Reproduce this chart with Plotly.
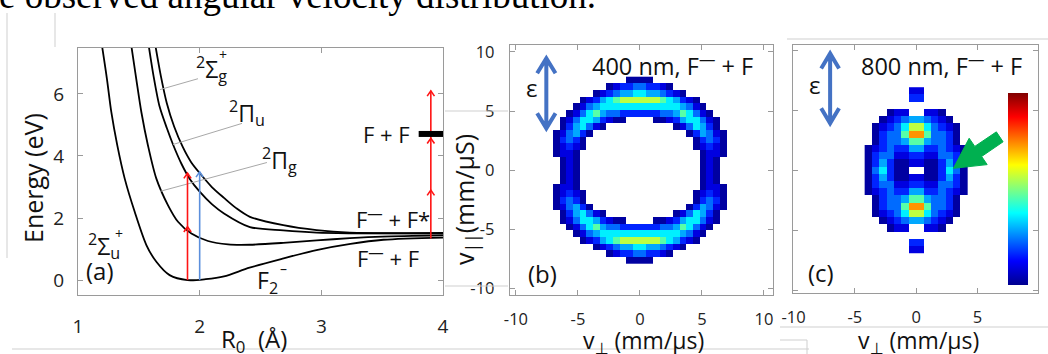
import numpy as np
import plotly.graph_objects as go

# ---------------- panel (a): potential energy curves (R in Angstrom, E in eV) ----------------
R_sigma_u = [1.197, 1.238, 1.274, 1.323, 1.384, 1.466, 1.562, 1.644, 1.753, 1.90, 2.05, 2.20, 2.41, 2.69, 2.96, 3.24, 3.51, 4.0]
E_sigma_u = [7.56, 6.48, 5.41, 4.34, 3.27, 2.20, 1.13, 0.59, 0.16, 0.0, 0.03, 0.12, 0.40, 0.70, 0.97, 1.17, 1.30, 1.37]
R_pi_g = [1.438, 1.479, 1.521, 1.575, 1.644, 1.740, 1.822, 1.932, 2.068, 2.233, 2.413, 2.687, 2.961, 3.235, 3.5, 4.0]
E_pi_g = [7.56, 6.48, 5.41, 4.34, 3.27, 2.41, 1.88, 1.50, 1.26, 1.15, 1.14, 1.20, 1.28, 1.35, 1.40, 1.44]
R_pi_u = [1.581, 1.62, 1.67, 1.73, 1.781, 1.85, 1.92, 2.0, 2.1, 2.2, 2.413, 2.687, 2.961, 3.235, 4.0]
E_pi_u = [7.56, 6.6, 5.6, 4.9, 4.37, 3.75, 3.25, 2.85, 2.45, 2.15, 1.71, 1.60, 1.53, 1.51, 1.50]
R_sigma_g = [1.636, 1.68, 1.73, 1.79, 1.86, 1.93, 2.0, 2.1, 2.2, 2.3, 2.413, 2.687, 2.961, 3.235, 4.0]
E_sigma_g = [7.56, 6.6, 5.7, 4.95, 4.3, 3.8, 3.45, 3.0, 2.65, 2.32, 2.04, 1.77, 1.61, 1.53, 1.52]

# photon arrows: position, start, end, head energies
arrow_R = [1.9, 2.0, 3.9]
arrow_E0 = [0.0, 0.0, 1.34]
arrow_E1 = [3.45, 3.49, 6.1]
arrow_heads = [[1.72, 3.45], [3.49], [2.9, 4.57, 6.1]]
arrow_colors = ['#ff1414', '#5b8fdc', '#ff1414']

# F + F asymptote bar
FF_R = [3.8, 4.0]
FF_E = 4.71

# leader lines (label -> curve)
leader_R = [[1.674, 1.986], [1.781, 2.348], [1.674, 2.553]]
leader_E = [[6.14, 6.49], [4.37, 5.05], [2.86, 3.79]]

a_xticks = [1, 2, 3, 4]
a_yticks = [0, 2, 4, 6]
v_ticks = [-10, -5, 0, 5, 10]

# ---------------- panels (b), (c): velocity map images (digit = intensity level) ----------------
D = '.'
ring_400 = [
    D*12 + "0000" + D*12,
    D*9 + "0122332210" + D*9,
    D*7 + "01234455443210" + D*7,
    D*5 + "012456777777654210" + D*5,
    D*4 + "01345555555555554310" + D*4,
    D*3 + "0135643322222233465310" + D*3,
    D*2 + "0135542100" + D*4 + "0012455310" + D*2,
    D*2 + "0245310" + D*10 + "0135420" + D*2,
    D + "013420" + D*14 + "024310" + D,
    D + "02320" + D*16 + "02320" + D,
    D + "01210" + D*16 + "01210" + D,
    D + "0110" + D*18 + "0110" + D,
    D*2 + "010" + D*18 + "010" + D*2,
    D*2 + "010" + D*18 + "010" + D*2,
    D*2 + "010" + D*18 + "010" + D*2,
    D*2 + "010" + D*18 + "010" + D*2,
    D + "0110" + D*18 + "0110" + D,
    D + "01210" + D*16 + "01210" + D,
    D + "02320" + D*16 + "02320" + D,
    D + "013420" + D*14 + "024310" + D,
    D*2 + "0245310" + D*10 + "0135420" + D*2,
    D*2 + "0135542100" + D*4 + "0012455310" + D*2,
    D*3 + "0135643322222233465310" + D*3,
    D*4 + "01345555555555554310" + D*4,
    D*5 + "012456777777654210" + D*5,
    D*7 + "01234455443210" + D*7,
    D*9 + "0122332210" + D*9,
    D*12 + "0000" + D*12,
]
blob_800 = [
    "......11......",
    "......22......",
    "..............",
    "...011..110...",
    "..0123443210..",
    ".012357753210.",
    ".023369963320.",
    ".023346643320.",
    "01232244223210",
    "02331122113320",
    "02420011002420",
    "035200..002530",
    "02420011002420",
    "02331122113320",
    "01232244223210",
    ".023346643320.",
    ".023369963320.",
    ".012357753210.",
    "..0123443210..",
    "...011..110...",
    "..............",
    "......22......",
    "......11......",
]
levels = {'0': 0.02, '1': 0.09, '2': 0.16, '3': 0.23, '4': 0.29, '5': 0.36,
          '6': 0.46, '7': 0.56, '8': 0.63, '9': 0.73}

def to_z(grid):
    return np.array([[levels[c] if c != '.' else np.nan for c in row] for row in grid])

z_b = to_z(ring_400)
z_c = to_z(blob_800)
nb_r, nb_c = z_b.shape
nc_r, nc_c = z_c.shape
xb = (np.arange(nb_c) - (nb_c - 1) / 2) * 0.54
yb = ((nb_r - 1) / 2 - np.arange(nb_r)) * 0.565
xc = (np.arange(nc_c) - (nc_c - 1) / 2) * 0.6
yc = ((nc_r - 1) / 2 - np.arange(nc_r)) * 0.6

jet = [[0, '#00008f'], [0.125, '#0000ff'], [0.375, '#00ffff'],
       [0.625, '#ffff00'], [0.875, '#ff0000'], [1, '#800000']]

W, H = 1048, 354
def px(x): return x / W
def py(y): return 1 - y / H

FONT = 'Open Sans, DejaVu Sans, sans-serif'
fig = go.Figure()

# ---- panel (a) ----
for R, E in [(R_sigma_u, E_sigma_u), (R_pi_g, E_pi_g), (R_pi_u, E_pi_u), (R_sigma_g, E_sigma_g)]:
    fig.add_trace(go.Scatter(x=R, y=E, mode='lines', xaxis='x', yaxis='y',
                             line=dict(color='black', width=1.8, shape='spline', smoothing=0.8),
                             hoverinfo='skip'))
for Rl, El in zip(leader_R, leader_E):
    fig.add_trace(go.Scatter(x=Rl, y=El, mode='lines', xaxis='x', yaxis='y',
                             line=dict(color='#a8a8a8', width=1), hoverinfo='skip'))
hw, hh = 0.03, 0.17
for R, e0, e1, heads, col in zip(arrow_R, arrow_E0, arrow_E1, arrow_heads, arrow_colors):
    xs, ys = [R, R, None], [e0, e1, None]
    for eh in heads:
        xs += [R - hw, R, R + hw, None]
        ys += [eh - hh, eh, eh - hh, None]
    fig.add_trace(go.Scatter(x=xs, y=ys, mode='lines', xaxis='x', yaxis='y',
                             line=dict(color=col, width=1.6), hoverinfo='skip'))
fig.add_trace(go.Scatter(x=FF_R, y=[FF_E, FF_E], mode='lines', xaxis='x', yaxis='y',
                         line=dict(color='black', width=6), hoverinfo='skip'))

# ---- panel (b) ----
fig.add_trace(go.Heatmap(z=z_b, x=xb, y=yb, xaxis='x2', yaxis='y2', colorscale=jet,
                         zmin=0, zmax=1, showscale=False, hoverongaps=False))
# ---- panel (c) ----
fig.add_trace(go.Heatmap(z=z_c, x=xc, y=yc, xaxis='x3', yaxis='y3', colorscale=jet,
                         zmin=0, zmax=1, hoverongaps=False,
                         colorbar=dict(x=px(1008), xanchor='left', y=py(189), yanchor='middle',
                                       len=192 / H, lenmode='fraction', thickness=20,
                                       thicknessmode='pixels', outlinewidth=0, xpad=0, ypad=0,
                                       showticklabels=False, ticks='')))

axis_common = dict(showline=True, linecolor='#9a9a9a', linewidth=1.3, mirror='ticks',
                   ticks='inside', ticklen=5, tickcolor='#9a9a9a', tickwidth=1,
                   showgrid=False, zeroline=False, automargin=False)
big_tick = dict(family=FONT, size=19, color='#222')
small_tick = dict(family=FONT, size=16.5, color='#222')

fig.update_layout(
    width=W, height=H, margin=dict(l=0, r=0, t=0, b=0, autoexpand=False),
    paper_bgcolor='white', plot_bgcolor='white', showlegend=False,
    font=dict(family=FONT, color='#111'),
    xaxis=dict(domain=[px(78), px(443)], range=[1, 4], anchor='y', tickvals=a_xticks,
               ticktext=[str(t) for t in a_xticks], tickfont=big_tick, ticklabelstandoff=14,
               **axis_common),
    yaxis=dict(domain=[py(295), py(48)], range=[-0.48, 7.48], anchor='x', tickvals=a_yticks,
               ticktext=[str(t) for t in a_yticks], tickfont=big_tick, ticklabelstandoff=9,
               **axis_common),
    xaxis2=dict(domain=[px(510), px(773)], range=[-10.48, 10.73], anchor='y2', tickvals=v_ticks,
                ticktext=[str(t) for t in v_ticks], tickfont=small_tick, ticklabelstandoff=9,
                **axis_common),
    yaxis2=dict(domain=[py(295), py(45)], range=[-10.54, 10.59], anchor='x2', tickvals=v_ticks,
                ticktext=[str(t) for t in v_ticks], tickfont=small_tick, ticklabelstandoff=11,
                **axis_common),
    xaxis3=dict(domain=[px(793), px(1038)], range=[-10.05, 9.95], anchor='y3', tickvals=v_ticks,
                ticktext=[str(t) for t in v_ticks], tickfont=small_tick, ticklabelstandoff=9,
                **axis_common),
    yaxis3=dict(domain=[py(293), py(45)], range=[-10.25, 10.42], anchor='x3', tickvals=v_ticks,
                showticklabels=False, **axis_common),
)

# blue polarization double arrows + green pointer
shapes = []
for xr, yr, x0, yt, yb_, dx, dy in [('x2', 'y2', -7.55, 9.47, 3.55, 0.74, 1.27),
                                    ('x3', 'y3', -7.02, 9.72, 3.89, 0.73, 1.25)]:
    path = (f"M {x0},{yt} L {x0},{yb_} "
            f"M {x0-dx},{yt-dy} L {x0},{yt} L {x0+dx},{yt-dy} "
            f"M {x0-dx},{yb_+dy} L {x0},{yb_} L {x0+dx},{yb_+dy}")
    shapes.append(dict(type='path', xref=xr, yref=yr, path=path,
                       line=dict(color='#4472c4', width=4)))
shapes.append(dict(type='path', xref='x3', yref='y3',
                   path="M 3.04,0.14 L 5.80,0.45 L 5.35,1.13 L 7.10,2.35 L 6.55,3.18 L 4.79,1.97 L 4.33,2.65 Z",
                   fillcolor='#00b050', line=dict(color='#00b050', width=1)))
# page artefacts (thin grey frame lines of the screenshot)
for x0, y0, x1, y1 in [(7, 13, 7, 258), (55, 13, 55, 47), (787, 39, 1048, 39),
                       (445, 111, 508, 111), (445, 286, 508, 286), (780, 327, 1048, 327),
                       (12, 349, 809, 349), (780, 340, 807, 340), (807, 340, 807, 354)]:
    shapes.append(dict(type='line', xref='paper', yref='paper', x0=px(x0), y0=py(y0),
                       x1=px(x1), y1=py(y1), line=dict(color='#cfcfcf', width=1)))
fig.update_layout(shapes=shapes)

anns = [
    ("Energy (eV)", 33, 178, 25, -90),
    ("R<sub>0</sub>  (Å)", 254, 340, 24, 0),
    ("<sup>2</sup>Σ<sub>g</sub>", 211, 69, 23, 0),
    ("+", 223, 55, 14, 0),
    ("<sup>2</sup>Π<sub>u</sub>", 247, 113, 23, 0),
    ("<sup>2</sup>Π<sub>g</sub>", 279, 160, 23, 0),
    ("<sup>2</sup>Σ<sub>u</sub>", 104, 246, 23, 0),
    ("+", 119, 233, 14, 0),
    ("(a)", 100, 270, 24, 0),
    ("F<sub>2</sub>", 267, 281, 23, 0),
    ("–", 283, 268, 14, 0),
    ("F + F", 386, 134, 22, 0),
    ("F<sup>—</sup> + F*", 393, 218, 22, 0),
    ("F<sup>—</sup> + F", 388, 257, 22, 0),
    ("400 nm, F<sup>—</sup> + F", 672, 64, 23.5, 0),
    ("ε", 531, 87, 24, 0),
    ("(b)", 542, 273, 24, 0),
    ("v<sub>||</sub>(mm/μS)", 465, 200, 25, -90),
    ("v<sub>⊥</sub> (mm/μs)", 643, 341, 23, 0),
    ("800 nm, F<sup>—</sup> + F", 941, 64, 23.5, 0),
    ("ε", 814, 84, 24, 0),
    ("(c)", 821, 272, 24, 0),
    ("v<sub>⊥</sub> (mm/μs)", 918, 341, 23, 0),
]
for text, x, y, size, ang in anns:
    fig.add_annotation(text=text, x=px(x), y=py(y), xref='paper', yref='paper',
                       showarrow=False, textangle=ang, xanchor='center', yanchor='middle',
                       font=dict(family=FONT, size=size, color='#111'))
fig.add_annotation(text="e observed angular velocity distribution.", x=px(-3), y=py(-4.5),
                   xref='paper', yref='paper', showarrow=False, xanchor='left', yanchor='middle',
                   font=dict(family='Liberation Serif, Times New Roman, serif', size=37, color='black'))

fig.write_html("out.html", config={'displayModeBar': False},
               post_script="document.body.style.margin='0px';document.body.style.overflow='hidden';")
